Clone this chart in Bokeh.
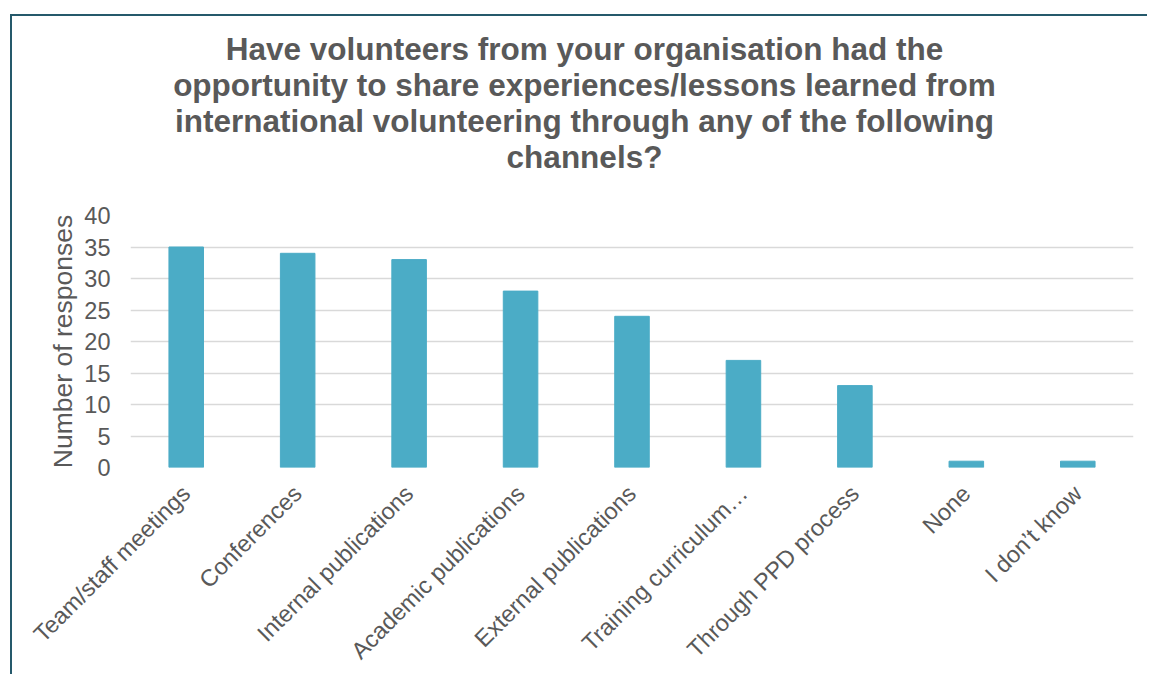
import math
from bokeh.plotting import figure
from bokeh.models import Range1d, FixedTicker, Label
from bokeh.embed import file_html
from bokeh.resources import INLINE

categories = ["Team/staff meetings", "Conferences", "Internal publications",
              "Academic publications", "External publications", "Training curriculum\u2026",
              "Through PPD process", "None", "I don\u2019t know"]
responses = [35, 34, 33, 28, 24, 17, 13, 1, 1]
y_ticks = [0, 5, 10, 15, 20, 25, 30, 35, 40]
title_lines = ["Have volunteers from your organisation had the",
               "opportunity to share experiences/lessons learned from",
               "international volunteering through any of the following",
               "channels?"]

TEXT = "#595959"
FONT = "Liberation Sans"

p = figure(x_range=categories, y_range=Range1d(0, 40), width=1137, height=660,
           output_backend="svg", toolbar_location=None,
           min_border_left=118, min_border_right=16, min_border_top=199, min_border_bottom=209)
p.margin = (14, 0, 0, 10)
p.styles = {"border-top": "2px solid #25596B", "border-left": "2px solid #25596B"}
p.x_range.range_padding = 0
p.outline_line_color = None
p.background_fill_color = "white"
p.border_fill_color = "white"

p.vbar(x=categories, top=responses, width=0.31, fill_color="#4BACC6", line_color="#4BACC6")

p.xgrid.grid_line_color = None
p.ygrid.grid_line_color = "#D9D9D9"
p.ygrid.grid_line_width = 1.3
p.yaxis.ticker = FixedTicker(ticks=y_ticks)

for ax in (p.xaxis[0], p.yaxis[0]):
    ax.axis_line_color = None
    ax.major_tick_line_color = None
    ax.minor_tick_line_color = None
    ax.major_tick_in = 0
    ax.major_tick_out = 0
    ax.major_label_text_font = FONT
    ax.major_label_text_color = TEXT
    ax.major_label_text_font_size = "23.5px"

p.yaxis.major_label_standoff = 20
p.yaxis.axis_label = "Number of responses"
p.yaxis.axis_label_text_font = FONT
p.yaxis.axis_label_text_font_style = "normal"
p.yaxis.axis_label_text_color = TEXT
p.yaxis.axis_label_text_font_size = "26.5px"
p.yaxis.axis_label_standoff = 3

p.xaxis.major_label_orientation = math.pi / 4
p.xaxis.major_label_standoff = 22

title = Label(x=454, y=41, x_units="screen", y_units="screen",
              text="\n".join(title_lines),
              text_font=FONT, text_font_style="bold", text_font_size="31.5px",
              text_color=TEXT, text_align="center", text_baseline="bottom",
              text_line_height=1.0)
p.add_layout(title, "above")

open("out.html", "w").write(file_html(p, INLINE))
